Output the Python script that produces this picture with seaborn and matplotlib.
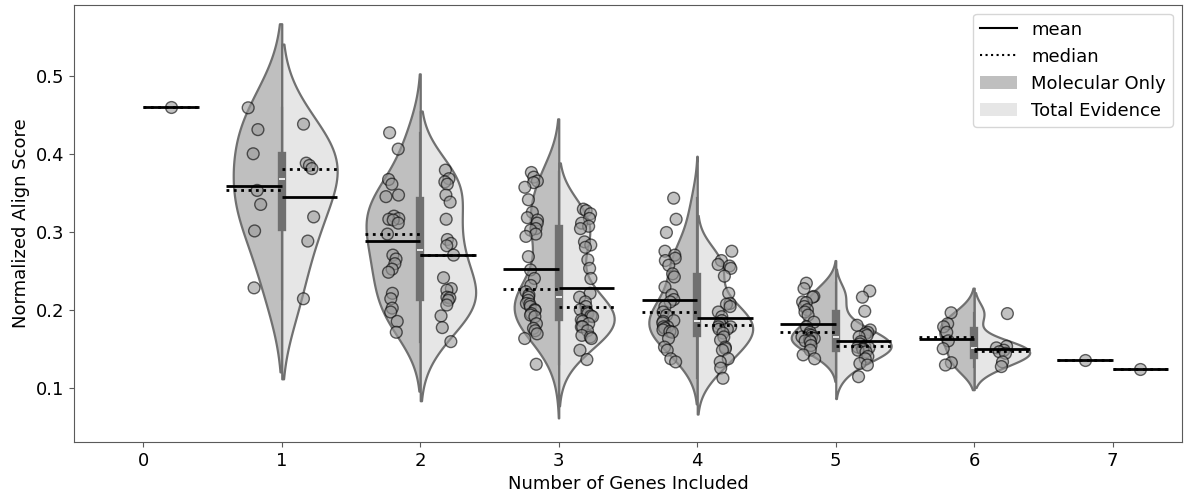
import numpy as np
import pandas as pd
import matplotlib
matplotlib.use("Agg")
import matplotlib.pyplot as plt
import seaborn as sns
from matplotlib.lines import Line2D
from matplotlib.patches import Patch

# ---------------- data ----------------
categories = [0, 1, 2, 3, 4, 5, 6, 7]
hue_levels = ["Molecular Only", "Total Evidence"]

mol_0 = []
mol_1 = [0.459, 0.431, 0.400, 0.353, 0.335, 0.301, 0.228]
mol_2 = [0.427, 0.406, 0.367, 0.361, 0.347, 0.345, 0.320, 0.317, 0.316, 0.315, 0.311,
         0.297, 0.270, 0.265, 0.259, 0.252, 0.248, 0.221, 0.214, 0.202, 0.197, 0.185, 0.171]
mol_3 = [0.376, 0.370, 0.365, 0.363, 0.357, 0.341, 0.325, 0.318, 0.315, 0.311, 0.304,
         0.302, 0.297, 0.294, 0.268, 0.251, 0.240, 0.231, 0.223, 0.219, 0.216, 0.212,
         0.208, 0.207, 0.204, 0.200, 0.199, 0.195, 0.193, 0.191, 0.182, 0.176, 0.173,
         0.169, 0.163, 0.130]
mol_4 = [0.343, 0.316, 0.299, 0.275, 0.270, 0.266, 0.263, 0.257, 0.246, 0.242, 0.229,
         0.219, 0.213, 0.210, 0.204, 0.197, 0.193, 0.186, 0.185, 0.183, 0.178, 0.178,
         0.176, 0.174, 0.172, 0.171, 0.163, 0.152, 0.148, 0.137, 0.133]
mol_5 = [0.234, 0.227, 0.217, 0.216, 0.210, 0.209, 0.204, 0.200, 0.197, 0.193, 0.184,
         0.178, 0.171, 0.168, 0.167, 0.165, 0.164, 0.163, 0.161, 0.160, 0.159, 0.154,
         0.148, 0.142, 0.137]
mol_6 = [0.196, 0.182, 0.178, 0.171, 0.160, 0.150, 0.132, 0.129]
mol_7 = [0.136]

te_0 = [0.460]
te_1 = [0.438, 0.388, 0.385, 0.381, 0.319, 0.288, 0.214]
te_2 = [0.379, 0.368, 0.364, 0.361, 0.347, 0.338, 0.316, 0.290, 0.285, 0.282, 0.270,
        0.241, 0.227, 0.225, 0.216, 0.215, 0.212, 0.206, 0.192, 0.177, 0.159]
te_3 = [0.329, 0.327, 0.323, 0.317, 0.311, 0.307, 0.304, 0.287, 0.283, 0.280, 0.264,
        0.253, 0.240, 0.221, 0.216, 0.210, 0.204, 0.200, 0.197, 0.195, 0.192, 0.191,
        0.187, 0.185, 0.182, 0.178, 0.178, 0.173, 0.167, 0.165, 0.163, 0.148, 0.136]
te_4 = [0.275, 0.263, 0.258, 0.256, 0.253, 0.243, 0.221, 0.208, 0.207, 0.204, 0.197,
        0.191, 0.186, 0.182, 0.178, 0.178, 0.175, 0.175, 0.170, 0.165, 0.161, 0.152,
        0.150, 0.148, 0.137, 0.133, 0.125, 0.112]
te_5 = [0.224, 0.216, 0.198, 0.180, 0.174, 0.171, 0.169, 0.167, 0.165, 0.159, 0.156,
        0.153, 0.152, 0.151, 0.150, 0.149, 0.148, 0.146, 0.140, 0.137, 0.131, 0.129, 0.114]
te_6 = [0.195, 0.153, 0.151, 0.148, 0.146, 0.144, 0.133, 0.127]
te_7 = [0.124]

molecular = [mol_0, mol_1, mol_2, mol_3, mol_4, mol_5, mol_6, mol_7]
total = [te_0, te_1, te_2, te_3, te_4, te_5, te_6, te_7]

rows = []
for c, mv, tv in zip(categories, molecular, total):
    rows += [(c, hue_levels[0], v) for v in mv]
    rows += [(c, hue_levels[1], v) for v in tv]
df = pd.DataFrame(rows, columns=["genes", "analysis", "score"])

# ---------------- style ----------------
MOL_COLOR = "#bfbfbf"
TE_COLOR = "#e6e6e6"
EDGE = "#707070"
PT_COLOR = "#9a9a9a"
PT_EDGE = "black"
AX_COLOR = "#5a5a5a"

plt.rcParams["font.family"] = ["DejaVu Sans"]
plt.rcParams["font.size"] = 13
np.random.seed(7)

W, H = 1186, 492
fig = plt.figure(figsize=(W / 100, H / 100), dpi=100)
ax = fig.add_axes([74 / W, 1 - 441.8 / H, (1182 - 74) / W, (441.8 - 4.5) / H])

# split violins, scaled within each category (only groups with >1 observation)
grp_n = df.groupby(["genes", "analysis"])["score"].transform("size")
vdf = df[grp_n > 1]
for c in categories:
    sub = vdf[vdf["genes"] == c]
    if sub.empty:
        continue
    sns.violinplot(data=sub, x="genes", y="score", hue="analysis", order=categories,
                   hue_order=hue_levels, split=True, inner=None,
                   palette=[MOL_COLOR, TE_COLOR], linecolor=EDGE, linewidth=1.6,
                   density_norm="area", common_norm=True, cut=2, width=0.8,
                   legend=False, ax=ax)

# combined inner box per category
cat_n = df.groupby("genes")["score"].transform("size")
bdf = df[(cat_n > 2)]
sns.violinplot(data=bdf, x="genes", y="score", order=categories, inner="box",
               fill=False, linewidth=0, color=EDGE, linecolor=EDGE, cut=0,
               inner_kws=dict(box_width=6, whis_width=1.6), ax=ax)

# jittered points
sns.stripplot(data=df, x="genes", y="score", hue="analysis", order=categories,
              hue_order=hue_levels, dodge=True, jitter=True,
              palette=[PT_COLOR, PT_COLOR], alpha=0.6, size=8.5,
              edgecolor=PT_EDGE, linewidth=1, legend=False, zorder=3, ax=ax)

# mean / median lines
stats = df.groupby(["genes", "analysis"])["score"].agg(["mean", "median"]).reset_index()
for _, r in stats.iterrows():
    i = categories.index(r["genes"])
    if r["analysis"] == hue_levels[0]:
        x0, x1 = i - 0.4, i
    else:
        x0, x1 = i, i + 0.4
    ax.hlines(r["median"], x0, x1, colors="black", linewidth=2, linestyles=":", zorder=5)
    ax.hlines(r["mean"], x0, x1, colors="black", linewidth=2, zorder=6)

ax.set_xlim(-0.5, 7.5)
ax.set_ylim(0.0305, 0.5915)
ax.set_yticks([0.1, 0.2, 0.3, 0.4, 0.5])
ax.set_xlabel("Number of Genes Included")
ax.set_ylabel("Normalized Align Score")
for s in ax.spines.values():
    s.set_color(AX_COLOR)
ax.tick_params(colors=AX_COLOR, labelcolor="black", length=3.5)

handles = [Line2D([0], [0], color="black", lw=1.5),
           Line2D([0], [0], color="black", lw=1.5, ls=":"),
           Patch(facecolor=MOL_COLOR, edgecolor="none"),
           Patch(facecolor=TE_COLOR, edgecolor="none")]
ax.legend(handles, ["mean", "median", "Molecular Only", "Total Evidence"],
          loc="upper right", fontsize=13)

fig.savefig("out.png", dpi=100)
